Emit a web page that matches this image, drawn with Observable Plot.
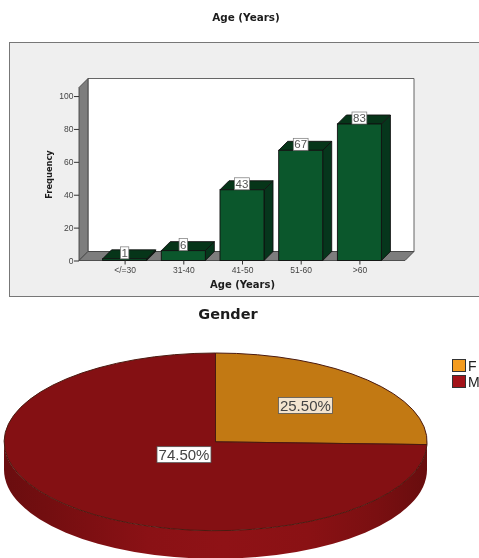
<!DOCTYPE html>
<html><head><meta charset="utf-8">
<script src="https://cdn.jsdelivr.net/npm/d3@7"></script>
<script src="https://cdn.jsdelivr.net/npm/@observablehq/plot@0.6"></script>
<style>
html,body{margin:0;padding:0;background:#fff;overflow:hidden}
#page{position:absolute;left:0;top:0;width:479px;height:558px;overflow:hidden;filter:blur(.4px)}
#panel{position:absolute;left:9px;top:42px;width:480px;height:253px;background:#efefef;border:1px solid #777}
.plot{position:absolute;left:0}
.title{position:absolute;font-family:"DejaVu Sans";font-weight:bold;color:#1c1c1c;white-space:nowrap;transform:translateX(-50%)}
.sw{position:absolute;left:452px;width:12px;height:11px;border:1px solid #333}
.lg{position:absolute;left:468px;font:14px "Liberation Sans";color:#222}
</style></head><body>
<div id="page">
<div class="title" style="left:246px;top:11px;font-size:10.4px">Age (Years)</div>
<div id="panel"></div>
<div class="title" style="left:228px;top:306px;font-size:14.5px">Gender</div>
<div class="sw" style="top:359px;background:#f49c1f"></div><div class="lg" style="top:358px">F</div>
<div class="sw" style="top:375px;background:#a31319"></div><div class="lg" style="top:374px">M</div>
</div>
<script>
const ageGroups = ["</=30","31-40","41-50","51-60",">60"];
const frequencies = [1,6,43,67,83];
const yTicks = [0,20,40,60,80,100];
const genders = ["F","M"];
const genderPercents = [25.5,74.5];
const genderLabels = ["25.50%","74.50%"];
const genderColors = ["#c27913","#841013"];
const labelX = [0.425,-0.149];
const labelY = [0.41,-0.144];

const bars = ageGroups.map((g,i)=>({g,v:frequencies[i]}));
const D = 9; // depth of the 3D extrusion, px
const poly = (g,pts,fill,stroke="#111")=>g.append("polygon").attr("points",pts.join(" ")).attr("fill",fill).attr("stroke",stroke).attr("stroke-width",.9).attr("stroke-linejoin","round");

function box(){
  return (index,{x,y})=>{
    const g=d3.create("svg:g"), [x0,x1]=x.range(), [y0,y1]=y.range();
    poly(g,[[x0+D,y0-D],[x1+D,y0-D],[x1+D,y1-D],[x0+D,y1-D]],"#fff","#555");
    poly(g,[[x0,y0],[x0+D,y0-D],[x0+D,y1-D],[x0,y1]],"#7d7d7d","#444");
    poly(g,[[x0,y0],[x0+D,y0-D],[x1+D,y0-D],[x1,y0]],"#7d7d7d","#444");
    return g.node();
  };
}
function faces(){
  return (index,{x,y})=>{
    const g=d3.create("svg:g"), w=x.bandwidth(), y0=y(0);
    for(const d of bars){
      const a=x(d.g), b=a+w, t=y(d.v);
      poly(g,[[b,y0],[b+D,y0-D],[b+D,t-D],[b,t]],"#06361c");
      poly(g,[[a,t],[a+D,t-D],[b+D,t-D],[b,t]],"#063519");
    }
    return g.node();
  };
}
function barLabels(){
  return (index,{x,y})=>{
    const g=d3.create("svg:g"), w=x.bandwidth();
    for(const d of bars){
      const s=String(d.v), bw=s.length*6.4+2, cx=x(d.g)+w/2, cy=y(d.v)-6;
      g.append("rect").attr("x",cx-bw/2).attr("y",cy-6).attr("width",bw).attr("height",12).attr("fill","#fff").attr("stroke","#777").attr("stroke-width",.7);
      g.append("text").attr("x",cx).attr("y",cy).attr("dy","0.36em").attr("text-anchor","middle").attr("font-size",11.5).attr("fill","#555").attr("font-family","Liberation Sans").text(s);
    }
    return g.node();
  };
}

const barPlot = Plot.plot({
  width:479,height:300,
  marginLeft:79,marginRight:74,marginTop:87.5,marginBottom:39.5,
  style:{background:"transparent",overflow:"visible"},
  x:{type:"band",domain:ageGroups,paddingInner:.25,paddingOuter:.402,round:false},
  y:{domain:[0,105.2]},
  marks:[
    box(),
    faces(),
    Plot.barY(bars,{x:"g",y:"v",fill:"#0b572c",stroke:"#111",strokeWidth:.9}),
    barLabels(),
    Plot.axisY({ticks:yTicks,tickSize:5,tickPadding:1,fontSize:8.5,fontFamily:"Liberation Sans",color:"#444",stroke:"#333",
      label:null}),
    Plot.axisX({tickSize:4,tickPadding:2,fontSize:8.5,fontFamily:"Liberation Sans",color:"#444",stroke:"#333",label:null}),
    Plot.text(["Frequency"],{frameAnchor:"left",textAnchor:"middle",dx:-30,rotate:-90,fontWeight:"bold",fontSize:8.3,fontFamily:"DejaVu Sans",fill:"#1c1c1c"}),
    Plot.text(["Age (Years)"],{frameAnchor:"bottom",dy:26.5,fontWeight:"bold",fontSize:10,fontFamily:"DejaVu Sans",fill:"#1c1c1c"})
  ]
});
barPlot.classList.add("plot");barPlot.style.top="0";
document.getElementById("page").appendChild(barPlot);

const slices = d3.pie().sort(null).value(d=>d)(genderPercents);
const DEPTH = 28;
const sideStops = [[0,"#6a0d0f"],[.1,"#730e10"],[.2,"#7d0f12"],[.34,"#8a1115"],[.52,"#8f1216"],[.72,"#8a1114"],[.88,"#7a0f11"],[1,"#680d0e"]];
function pie(){
  return (index,{x,y})=>{
    const g=d3.create("svg:g");
    const cx=x(0),cy=y(0),rx=x(1)-cx,ry=cy-y(1);
    const lg=g.append("defs").append("linearGradient").attr("id","side");
    for(const [o,c] of sideStops) lg.append("stop").attr("offset",o).attr("stop-color",c);
    g.append("path").attr("fill","url(#side)")
      .attr("d",`M${cx-rx},${cy}A${rx},${ry} 0 0 0 ${cx+rx},${cy}V${cy+DEPTH}A${rx},${ry} 0 0 1 ${cx-rx},${cy+DEPTH}Z`);
    const arc=d3.arc().innerRadius(0).outerRadius(1);
    slices.forEach((s,i)=>{
      g.append("path").attr("d",arc(s)).attr("transform",`translate(${cx},${cy}) scale(${rx},${ry})`)
       .attr("fill",genderColors[i]).attr("stroke","#4a1a10").attr("stroke-width",1).attr("vector-effect","non-scaling-stroke");
    });
    return g.node();
  };
}
function pieLabels(){
  return (index,{x,y})=>{
    const g=d3.create("svg:g");
    genderLabels.forEach((s,i)=>{
      const cx=x(labelX[i]),cy=y(labelY[i]);
      g.append("rect").attr("x",cx-27).attr("y",cy-8).attr("width",54).attr("height",16).attr("fill","#fff").attr("fill-opacity",i?1:.8).attr("stroke","#555").attr("stroke-width",.8);
      g.append("text").attr("x",cx).attr("y",cy).attr("dy","0.36em").attr("text-anchor","middle").attr("font-size",15).attr("fill","#444").attr("font-family","Liberation Sans").text(s);
    });
    return g.node();
  };
}
const piePlot = Plot.plot({
  width:479,height:258,
  marginLeft:4,marginRight:52,marginTop:53,marginBottom:27.3,
  style:{background:"transparent"},
  x:{domain:[-1,1],axis:null},
  y:{domain:[-1,1],axis:null},
  marks:[
    Plot.dot(genderPercents,{x:()=>0,y:()=>0,r:0}),
    pie(),
    pieLabels()
  ]
});
piePlot.classList.add("plot");piePlot.style.top="300px";
document.getElementById("page").appendChild(piePlot);
</script>
</body></html>
